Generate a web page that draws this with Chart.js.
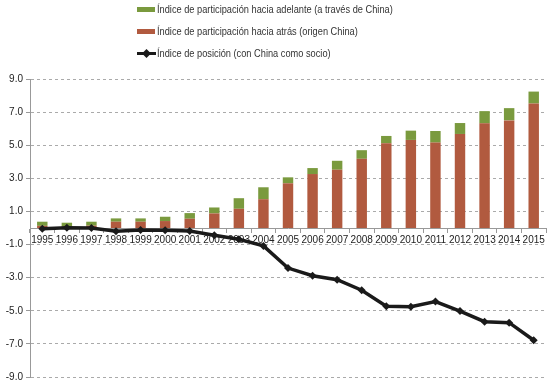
<!DOCTYPE html>
<html>
<head>
<meta charset="utf-8">
<script src="https://cdn.jsdelivr.net/npm/chart.js@4/dist/chart.umd.min.js"></script>
<style>
html,body{margin:0;padding:0;background:#fff;}
#wrap{position:relative;width:550px;height:386px;}
canvas{position:absolute;left:0;top:0;}
.leg{position:absolute;left:137px;font-family:"Liberation Sans",Arial,sans-serif;font-size:10.5px;color:#333;white-space:nowrap;}
.leg .box{position:absolute;left:0;width:18px;height:5px;}
.leg .txt{position:absolute;left:20px;top:0;line-height:13px;transform:scaleX(0.88);transform-origin:0 0;}
</style>
</head>
<body>
<div id="wrap">
<canvas id="c" width="550" height="386"></canvas>
<div class="leg" style="top:3px"><div class="box" style="top:4px;background:#7a9a3e"></div><span class="txt">Índice de participación hacia adelante (a través de China)</span></div>
<div class="leg" style="top:25px"><div class="box" style="top:4px;background:#b15a3f"></div><span class="txt">Índice de participación hacia atrás (origen China)</span></div>
<div class="leg" style="top:47px"><svg style="position:absolute;left:0;top:1px" width="19" height="11"><line x1="0" y1="5.5" x2="19" y2="5.5" stroke="#1a1a1a" stroke-width="3"/><polygon points="9.5,1 14,5.5 9.5,10 5,5.5" fill="#1a1a1a"/></svg><span class="txt">Índice de posición (con China como socio)</span></div>
</div>
<script>
const years = ["1995","1996","1997","1998","1999","2000","2001","2002","2003","2004","2005","2006","2007","2008","2009","2010","2011","2012","2013","2014","2015"];
const backward = [0.13,0.1,0.14,0.38,0.38,0.42,0.56,0.88,1.16,1.74,2.7,3.26,3.52,4.18,5.12,5.32,5.16,5.68,6.32,6.5,7.52];
const forward = [0.25,0.22,0.24,0.2,0.2,0.26,0.34,0.36,0.64,0.72,0.36,0.36,0.54,0.52,0.44,0.56,0.7,0.66,0.74,0.74,0.72];
const position = [-0.04,0.02,0,-0.2,-0.12,-0.14,-0.18,-0.44,-0.68,-1.08,-2.42,-2.88,-3.12,-3.76,-4.72,-4.76,-4.44,-5.02,-5.66,-5.72,-6.78];
const yTicks = [-9,-7,-5,-3,-1,1,3,5,7,9];

const FONT = "'Liberation Sans',Arial,sans-serif";

new Chart(document.getElementById('c'), {
  data: {
    labels: years,
    datasets: [
      {type:'line', label:'Índice de posición (con China como socio)', data: position, stack:'line',
       borderColor:'#1a1a1a', backgroundColor:'#1a1a1a', borderWidth:3.5, pointStyle:'rectRot',
       pointRadius:4, pointBackgroundColor:'#1a1a1a', pointBorderWidth:0, tension:0, order:0},
      {type:'bar', label:'Índice de participación hacia atrás (origen China)', data: backward, stack:'bars',
       backgroundColor:'#b15a3f', barPercentage:0.85, categoryPercentage:0.5, order:1},
      {type:'bar', label:'Índice de participación hacia adelante (a través de China)', data: forward, stack:'bars',
       backgroundColor:'#7a9a3e', barPercentage:0.85, categoryPercentage:0.5, order:1}
    ]
  },
  options: {
    responsive:false, animation:false,
    layout:{padding:{top:79, right:4, bottom:-2, left:0}},
    plugins:{legend:{display:false}, tooltip:{enabled:false}},
    scales:{
      x:{type:'category', stacked:true, position:{y:0}, offset:true,
         grid:{display:true, drawOnChartArea:false, drawTicks:true, tickLength:4, color:'#999', offset:true},
         border:{display:true, color:'#999', width:1},
         ticks:{color:'#222', font:{family:FONT, size:10}, padding:2, maxRotation:0, autoSkip:false}},
      y:{type:'linear', stacked:true, min:-9, max:9,
         afterBuildTicks: (s)=>{ s.ticks = yTicks.map(v=>({value:v})); },
         afterFit: (s)=>{ s.width = 30; },
         grid:{color:'#aaa', lineWidth:1, tickLength:4, drawTicks:true, tickColor:'#999'},
         border:{display:true, color:'#999', width:1, dash:[3,3]},
         ticks:{color:'#222', font:{family:FONT, size:10}, padding:3, callback:(v)=>Number(v).toFixed(1)}}
    }
  }
});
</script>
</body>
</html>
